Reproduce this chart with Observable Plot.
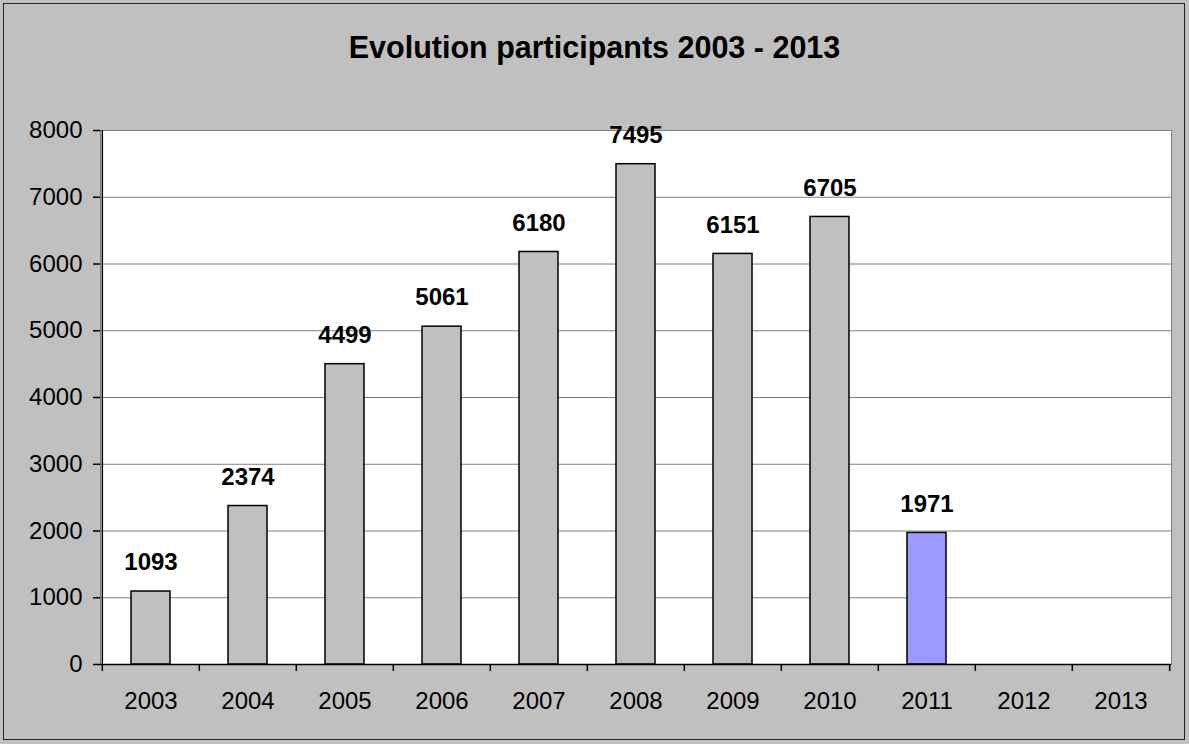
<!DOCTYPE html>
<html>
<head>
<meta charset="utf-8">
<script src="https://cdn.jsdelivr.net/npm/d3@7"></script>
<script src="https://cdn.jsdelivr.net/npm/@observablehq/plot@0.6"></script>
<style>
  html, body { margin: 0; padding: 0; background: #c0c0c0; }
  #wrap { position: relative; width: 1189px; height: 744px; background: #c0c0c0; overflow: hidden; font-family: "Liberation Sans", Arial, sans-serif; }
  #border { position: absolute; left: 3px; top: 3px; width: 1182px; height: 737px; border: 1.5px solid #222; box-sizing: border-box; pointer-events: none; }
  #title { position: absolute; left: 0; top: 30px; width: 1189px; text-align: center; font-weight: bold; font-size: 30.5px; color: #000; line-height: 34px; }
  #chart { position: absolute; left: 0; top: 90px; }
</style>
</head>
<body>
<div id="wrap">
  <div id="title">Evolution participants 2003 - 2013</div>
  <div id="chart"></div>
  <div id="border"></div>
</div>
<script>
const years = ["2003","2004","2005","2006","2007","2008","2009","2010","2011","2012","2013"];
const participants = [1093, 2374, 4499, 5061, 6180, 7495, 6151, 6705, 1971, null, null];
const highlightYear = "2011";
const yTicks = [0,1000,2000,3000,4000,5000,6000,7000,8000];

const data = years.map((y, i) => ({year: y, value: participants[i]}));
const bars = data.filter(d => d.value != null);

const W = 1189, H = 654;
const mL = 100, mR = 18, mT = 40, mB = 80;
const step = (W - mL - mR) / years.length;
const plotH = H - mT - mB;
const tickUnits = 7 / plotH * 8000;

const chart = Plot.plot({
  width: W, height: H,
  marginLeft: mL, marginRight: mR, marginTop: mT, marginBottom: mB,
  style: {background: "transparent", fontFamily: "'Liberation Sans', Arial, sans-serif", fontSize: "24px", color: "#000", overflow: "visible"},
  x: {domain: years, paddingInner: 0.6, paddingOuter: 0.3, label: null},
  y: {domain: [0, 8000], label: null},
  marks: [
    Plot.frame({fill: "white", stroke: "#808080"}),
    Plot.ruleY(yTicks.filter(t => t > 0), {stroke: "#808080", strokeWidth: 1}),
    Plot.barY(bars, {x: "year", y: "value", fill: d => d.year === highlightYear ? "#9999ff" : "#c0c0c0", stroke: "#000", strokeWidth: 1.5}),
    Plot.text(bars, {x: "year", y: "value", text: d => String(d.value), dy: -29, fontWeight: "bold", fontSize: 24, fill: "#000"}),
    Plot.ruleY([0], {stroke: "#000", strokeWidth: 1.5}),
    Plot.ruleX([0], {x: () => years[0], dx: -step/2, y1: 0, y2: 8000, stroke: "#000", strokeWidth: 1.5}),
    Plot.ruleX(years, {x: d => d, dx: -step/2, y1: 0, y2: -tickUnits, stroke: "#000", strokeWidth: 1.5}),
    Plot.ruleX([years[years.length-1]], {x: d => d, dx: step/2, y1: 0, y2: -tickUnits, stroke: "#000", strokeWidth: 1.5}),
    Plot.axisY({ticks: yTicks, tickSize: 7, tickPadding: 11, tickFormat: d => String(d), fontSize: 24, stroke: "#000", strokeWidth: 1.5}),
    Plot.axisX({tickSize: 0, tickPadding: 27, fontSize: 24})
  ]
});
document.getElementById("chart").appendChild(chart);
</script>
</body>
</html>
